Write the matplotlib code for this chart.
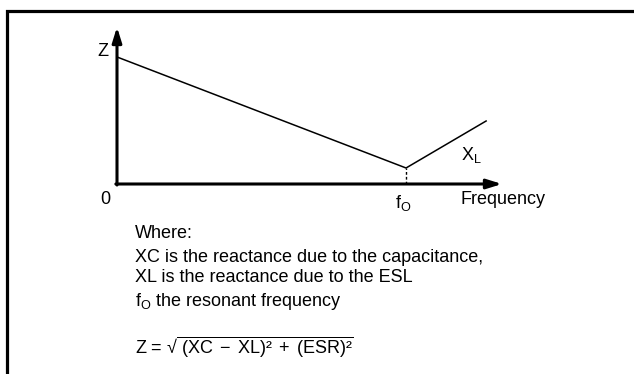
import matplotlib
matplotlib.use("Agg")
import matplotlib.pyplot as plt
from matplotlib.patches import Rectangle

plt.rcParams['font.family'] = ['Liberation Sans', 'DejaVu Sans']
plt.rcParams['mathtext.fontset'] = 'custom'
plt.rcParams['mathtext.rm'] = 'Liberation Sans'
plt.rcParams['mathtext.it'] = 'Liberation Sans'
plt.rcParams['mathtext.bf'] = 'Liberation Sans:bold'

# Schematic impedance curve (frequency normalised to f0 = 1, Z normalised to Z at origin = 1)
freq = [0.0, 1.0, 1.277]
impedance = [1.0, 0.126, 0.496]
f0 = 1.0
x_max = 1.332
y_max = 1.236

axis_label_y = "Z"
axis_label_x = "Frequency"
origin_label = "0"
f0_label = r"$\mathrm{f_O}$"
xl_label = r"$\mathrm{X_L}$"
notes = [
    "Where:",
    "XC is the reactance due to the capacitance,",
    "XL is the reactance due to the ESL",
]
note_f0 = r"$\mathrm{f_O}$ the resonant frequency"
formula = r"Z = √$\overline{\mathrm{\ (XC\;−\;XL)²\;+\ (ESR)²}}$"

W, H = 634, 374
fig = plt.figure(figsize=(W / 100, H / 100), dpi=100)

def fx(px):
    return px / W

def fy(py):
    return 1 - py / H

# border frame (clipped at right and bottom)
fig.patches.append(Rectangle((fx(7), fy(400)), fx(700), fy(11) - fy(400),
                             transform=fig.transFigure, fill=False,
                             edgecolor='black', linewidth=2.3, clip_on=False))

# axes: origin at pixel (117,184), right end 502, top 27
ax = fig.add_axes([fx(117), fy(184), fx(502) - fx(117), fy(27) - fy(184)])
ax.set_xlim(0, x_max)
ax.set_ylim(0, y_max)
ax.axis('off')

ax.plot(freq, impedance, color='black', linewidth=1.1, solid_joinstyle='miter', clip_on=False)
ax.plot([f0, f0], [0, impedance[1]], color='black', linewidth=1.0,
        linestyle=(0, (2, 1.5)), clip_on=False)

arrow_kw = dict(arrowstyle='-|>,head_length=0.9,head_width=0.28', color='black',
                linewidth=2.2, shrinkA=0, shrinkB=0)
ax.annotate('', xy=(x_max, 0), xytext=(-0.004, 0), xycoords='data',
            arrowprops=arrow_kw, annotation_clip=False)
ax.annotate('', xy=(0, y_max), xytext=(0, -0.008), xycoords='data',
            arrowprops=arrow_kw, annotation_clip=False)

fs = 13
fig.text(fx(103), fy(52), axis_label_y, fontsize=fs, ha='center', va='center')
fig.text(fx(105), fy(200), origin_label, fontsize=fs, ha='center', va='center')
fig.text(fx(403), fy(203), f0_label, fontsize=fs, ha='center', va='center')
fig.text(fx(460), fy(199), axis_label_x, fontsize=fs, ha='left', va='center')
fig.text(fx(461), fy(155), xl_label, fontsize=fs, ha='left', va='center')

ys = [233, 257, 278]
for t, y in zip(notes, ys):
    fig.text(fx(135), fy(y), t, fontsize=fs, ha='left', va='center')
fig.text(fx(135), fy(301), note_f0, fontsize=fs, ha='left', va='center')
fig.text(fx(135), fy(347), formula, fontsize=fs, ha='left', va='center')

fig.savefig("out.png", dpi=100)
